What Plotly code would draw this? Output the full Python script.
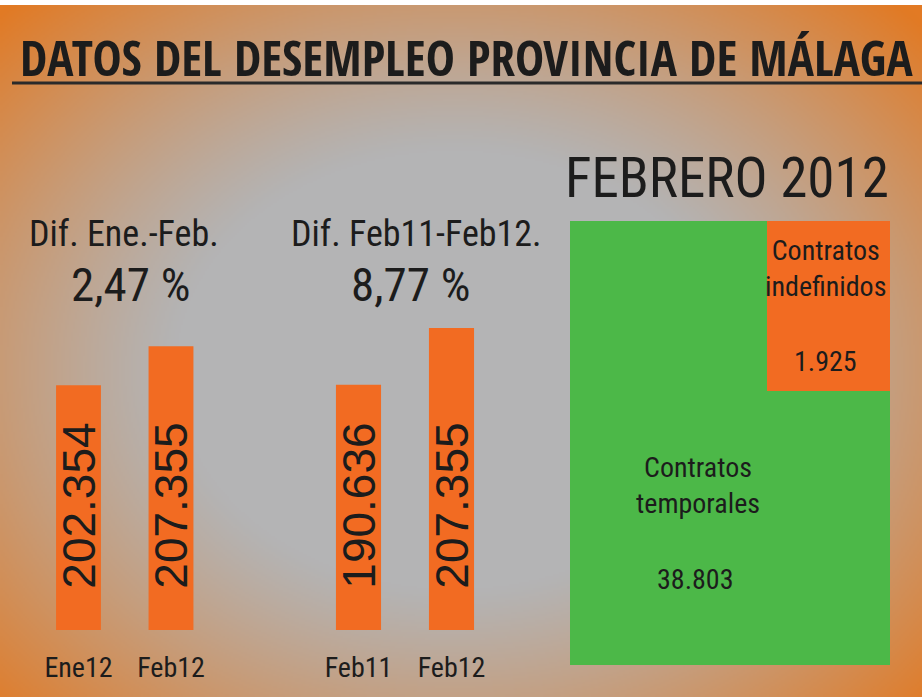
import base64, struct, zlib
import numpy as np
import plotly.graph_objects as go

# ---------------- data ----------------
title_text = "DATOS DEL DESEMPLEO PROVINCIA DE MÁLAGA"
g1_categories = ["Ene12", "Feb12"]
g1_values = [202354, 207355]
g1_heading = "Dif. Ene.-Feb."
g1_change = "2,47 %"
g2_categories = ["Feb11", "Feb12"]
g2_values = [190636, 207355]
g2_heading = "Dif. Feb11-Feb12."
g2_change = "8,77 %"
panel_title = "FEBRERO 2012"
contract_labels = ["Contratos<br>temporales", "Contratos<br>indefinidos"]
contract_values = [38803, 1925]

# ---------------- styling ----------------
W, H = 922, 697
ORANGE = "#F26B22"
GREEN = "#4CB848"
TXT = "#1c1c1c"
COND = "'Roboto Condensed', 'DejaVu Sans Condensed', sans-serif"
COND_BOLD = "'Open Sans Condensed', 'Roboto Condensed', sans-serif"
REG = "'Liberation Sans', Arial, sans-serif"
PAD = "\u00a0" * 3  # lifts the bar labels off the bar base

def fmt(v):
    return f"{v:,}".replace(",", ".")

def px(x):
    return x / W

def py(y):
    return 1 - y / H

# background: radial gray -> orange gradient as png
def gradient_uri():
    w, h = W // 2, H // 2
    xs = (np.arange(w) + 0.5) * W / w
    ys = (np.arange(h) + 0.5) * H / h
    X, Y = np.meshgrid(xs, ys)
    t = np.sqrt(((X - 455) / 560) ** 2 + ((Y - 370) / 440) ** 2)
    s = np.clip((t - 0.5) / 0.65, 0, 1) ** 1.15
    gray = np.array([180, 180, 181], float)
    orng = np.array([226, 122, 36], float)
    img = gray[None, None, :] * (1 - s[..., None]) + orng[None, None, :] * s[..., None]
    arr = np.clip(img, 0, 255).astype(np.uint8)
    raw = b"".join(b"\x00" + arr[i].tobytes() for i in range(h))

    def chunk(tag, data):
        return struct.pack(">I", len(data)) + tag + data + struct.pack(">I", zlib.crc32(tag + data) & 0xFFFFFFFF)

    png = (b"\x89PNG\r\n\x1a\n" + chunk(b"IHDR", struct.pack(">IIBBBBB", w, h, 8, 2, 0, 0, 0))
           + chunk(b"IDAT", zlib.compress(raw, 9)) + chunk(b"IEND", b""))
    return "data:image/png;base64," + base64.b64encode(png).decode()

fig = go.Figure()

# axis baselines (bars are drawn from these)
g1_base, g1_top = 171000, 213277
g2_base, g2_top = 118500, 215562

for cats, vals, base, xa, ya in [(g1_categories, g1_values, g1_base, "x", "y"),
                                 (g2_categories, g2_values, g2_base, "x2", "y2")]:
    fig.add_trace(go.Bar(
        x=cats, y=[v - base for v in vals], base=base,
        text=[PAD + fmt(v) for v in vals], textposition="inside", insidetextanchor="start",
        textangle=-90, constraintext="none", cliponaxis=False,
        textfont=dict(family=REG, size=46, color=TXT),
        marker=dict(color=ORANGE, line=dict(width=0)), xaxis=xa, yaxis=ya, hoverinfo="skip",
    ))

xax = dict(showgrid=False, zeroline=False, showline=False, ticks="", ticklabelstandoff=18,
           tickfont=dict(family=COND, size=28, color=TXT), fixedrange=True)
yax = dict(showgrid=False, zeroline=False, showline=False, showticklabels=False, fixedrange=True)

annotations = [
    dict(text=title_text, x=px(466), y=py(57), font=dict(family=COND_BOLD, size=49, color=TXT, weight="bold")),
    dict(text=g1_heading, x=px(124), y=py(234), font=dict(family=COND, size=36, color=TXT)),
    dict(text=g1_change, x=px(130), y=py(284), font=dict(family=COND, size=47, color=TXT)),
    dict(text=g2_heading, x=px(416), y=py(234), font=dict(family=COND, size=36, color=TXT)),
    dict(text=g2_change, x=px(410), y=py(284), font=dict(family=COND, size=47, color=TXT)),
    dict(text=panel_title, x=px(727), y=py(178), font=dict(family=COND, size=55, color=TXT)),
    dict(text=contract_labels[1], x=px(825), y=py(268), font=dict(family=COND, size=28, color=TXT)),
    dict(text=fmt(contract_values[1]), x=px(825), y=py(361), font=dict(family=COND, size=28, color=TXT)),
    dict(text=contract_labels[0], x=px(698), y=py(485), font=dict(family=COND, size=28, color=TXT)),
    dict(text=fmt(contract_values[0]), x=px(695), y=py(579), font=dict(family=COND, size=28, color=TXT)),
]
for a in annotations:
    a.update(xref="paper", yref="paper", showarrow=False, xanchor="center", yanchor="middle")

shapes = [
    dict(type="rect", xref="paper", yref="paper", x0=0, x1=1, y0=py(5), y1=1,
         fillcolor="white", line=dict(width=0), layer="above"),
    dict(type="line", xref="paper", yref="paper", x0=px(12), x1=1, y0=py(83), y1=py(83),
         line=dict(color="#2a2a2a", width=3), layer="above"),
    dict(type="rect", xref="paper", yref="paper", x0=px(570), x1=px(890), y0=py(665), y1=py(221),
         fillcolor=GREEN, line=dict(width=0), layer="above"),
    dict(type="rect", xref="paper", yref="paper", x0=px(767), x1=px(890), y0=py(391), y1=py(221),
         fillcolor=ORANGE, line=dict(width=0), layer="above"),
]

fig.update_layout(
    width=W, height=H, margin=dict(l=0, r=0, t=0, b=0),
    paper_bgcolor="#b4b4b4", plot_bgcolor="rgba(0,0,0,0)",
    showlegend=False, bargap=0.515, separators=",.",
    uniformtext=dict(minsize=46, mode="show"),
    xaxis=dict(domain=[px(32.25), px(217.25)], anchor="y", **xax),
    yaxis=dict(domain=[py(630), py(300)], range=[g1_base, g1_top], anchor="x", **yax),
    xaxis2=dict(domain=[px(312), px(498)], anchor="y2", **xax),
    yaxis2=dict(domain=[py(630), py(300)], range=[g2_base, g2_top], anchor="x2", **yax),
    annotations=annotations, shapes=shapes,
    images=[dict(source=gradient_uri(), xref="paper", yref="paper", x=0, y=1, sizex=1, sizey=1,
                 xanchor="left", yanchor="top", sizing="stretch", layer="below")],
)

fig.write_html("out.html", config=dict(displayModeBar=False),
               post_script="document.body.style.margin='0';document.body.style.overflow='hidden';")
